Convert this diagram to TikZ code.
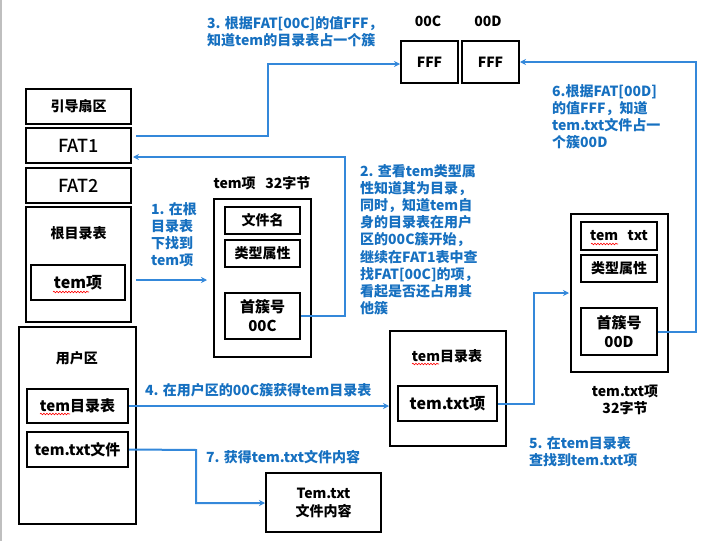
\documentclass[tikz,border=0pt]{standalone}
\usepackage{fontspec}
\setmainfont{Noto Sans CJK SC}
\newfontfamily\medfont{Noto Sans CJK SC Medium}
\usetikzlibrary{arrows.meta,decorations.pathmorphing}
\definecolor{tblue}{RGB}{22,112,192}
\definecolor{ablue}{RGB}{52,136,218}
\begin{document}
\begin{tikzpicture}[x=1pt,y=-1pt,
 box/.style={draw=black,line width=2pt,inner sep=0pt,align=center,font=\bfseries\fontsize{14}{18}\selectfont},
 conn/.style={draw=ablue,line width=2pt,-{Stealth[length=6pt,width=6pt]}},
 note/.style={text=tblue,font=\bfseries\fontsize{14}{17.2}\selectfont,align=left,anchor=north west,inner sep=0pt},
 lab/.style={font=\bfseries\fontsize{14}{17}\selectfont,align=center,inner sep=0pt},
 wavy/.style={draw=red,line width=0.6pt,decorate,decoration={snake,amplitude=0.8pt,segment length=3pt}}]
\useasboundingbox (0,0) rectangle (724,541);
\draw[black!25,line width=1.5pt] (1,0) -- (1,541);
% left column
\node[box,minimum width=105pt,minimum height=35pt] (boot) at (78.5,106.5) {引导扇区};
\node[box,minimum width=105pt,minimum height=35pt,font=\medfont\fontsize{18}{20}\selectfont] (fat1) at (78.5,145.5) {FAT1};
\node[box,minimum width=105pt,minimum height=35pt,font=\medfont\fontsize{18}{20}\selectfont] (fat2) at (78.5,185.5) {FAT2};
\node[box,minimum width=105pt,minimum height=115pt] (root) at (78.5,264.5) {};
\node[lab] (rootlab) at (78.5,233) {根目录表};
\node[box,minimum width=94pt,minimum height=35pt,font=\bfseries\fontsize{16}{18}\selectfont] (rootitem) at (78,282.5) {tem项};
\node[box,minimum width=117pt,minimum height=197pt] (user) at (77.5,425.5) {};
\node[lab] (userlab) at (77,358) {用户区};
\node[box,minimum width=101pt,minimum height=34pt,font=\bfseries\fontsize{15}{18}\selectfont] (utem) at (77.5,406) {tem目录表};
\node[box,minimum width=101pt,minimum height=35pt,font=\bfseries\fontsize{15}{18}\selectfont] (utxt) at (77.5,449.5) {tem.txt文件};
% tem item
\node[lab] (temtitle) at (262,183) {tem项\ \ \ 32字节};
\node[box,minimum width=97pt,minimum height=158pt] (temitem) at (262.5,278) {};
\node[box,minimum width=75pt,minimum height=27pt] (fname) at (262.5,220.5) {文件名};
\node[box,minimum width=75pt,minimum height=27pt] (ftype) at (262.5,253.5) {类型属性};
\node[box,minimum width=75pt,minimum height=46pt,font=\bfseries\fontsize{15}{19}\selectfont] (fclus) at (262.5,316) {首簇号\\00C};
% FAT cells
\node[lab] (l00C) at (428,21) {00C};
\node[lab] (l00D) at (488,21) {00D};
\node[box,minimum width=57pt,minimum height=42pt] (c00C) at (429.5,62) {FFF};
\node[box,minimum width=57pt,minimum height=42pt] (c00D) at (490.5,62) {FFF};
% tem dir table
\node[box,minimum width=116pt,minimum height=115pt] (temdir) at (448,388.5) {};
\node[lab] (temdirlab) at (447,356) {tem目录表};
\node[box,minimum width=99pt,minimum height=35pt,font=\bfseries\fontsize{16}{18}\selectfont] (txtitem) at (447.5,403.5) {tem.txt项};
% tem.txt entry
\node[box,minimum width=97pt,minimum height=158pt] (txtent) at (619.5,293) {};
\node[box,minimum width=76pt,minimum height=28pt] (tname) at (619,236) {tem\ \ \ txt};
\node[box,minimum width=76pt,minimum height=27pt] (ttype) at (619,268.5) {类型属性};
\node[box,minimum width=76pt,minimum height=47pt,font=\bfseries\fontsize{15}{19}\selectfont] (tclus) at (619,331.5) {首簇号\\00D};
\node[lab] (txtlab) at (625,399.5) {tem.txt项\\32字节};
% content
\node[box,minimum width=115pt,minimum height=59pt] (content) at (323.5,502.5) {Tem.txt\\文件内容};
% spell-check underlines
\draw[wavy] (53,292) -- (89,292);
\draw[wavy] (40,414) -- (70,414);
\draw[wavy] (412,364) -- (439,364);
\draw[wavy] (591,244) -- (618,244);
% connectors
\coordinate (s1) at (136,280);
\coordinate (e1) at (207,280);
\draw[conn] (s1) -- (e1);
\coordinate (k2) at (345,316);
\coordinate (e2) at (133,157);
\draw[conn] (fclus.east) -- (k2) |- (e2);
\coordinate (s3) at (136,136);
\coordinate (k3) at (268,136);
\coordinate (e3) at (400,64);
\draw[conn] (s3) -- (k3) |- (e3);
\coordinate (e4) at (389,406);
\draw[conn] (utem.east |- e4) -- (e4);
\coordinate (k5) at (534,403.5);
\coordinate (e5) at (569,293);
\draw[conn] (txtitem.east) -- (k5) |- (e5);
\coordinate (k6) at (696,331.5);
\coordinate (e6) at (520,62);
\draw[conn] (tclus.east) -- (k6) |- (e6);
\coordinate (k7) at (196,450);
\coordinate (e7) at (265,503);
\draw[conn] (utxt.east) -- (k7) |- (e7);
% notes
\node[note] (n3) at (207,16) {3. 根据FAT[00C]的值FFF，\\知道tem的目录表占一个簇};
\node[note] (n1) at (151,202) {1. 在根\\目录表\\下找到\\tem项};
\node[note] (n2) at (360,164) {2. 查看tem类型属\\性知道其为目录，\\同时，知道tem自\\身的目录表在用户\\区的00C簇开始，\\继续在FAT1表中查\\找FAT[00C]的项，\\看起是否还占用其\\他簇};
\node[note] (n6) at (552,84) {6.根据FAT[00D]\\的值FFF，知道\\tem.txt文件占一\\个簇00D};
\node[note] (n4) at (145,383) {4. 在用户区的00C簇获得tem目录表};
\node[note] (n5) at (529,436) {5. 在tem目录表\\查找到tem.txt项};
\node[note] (n7) at (206,450) {7. 获得tem.txt文件内容};
\end{tikzpicture}
\end{document}
